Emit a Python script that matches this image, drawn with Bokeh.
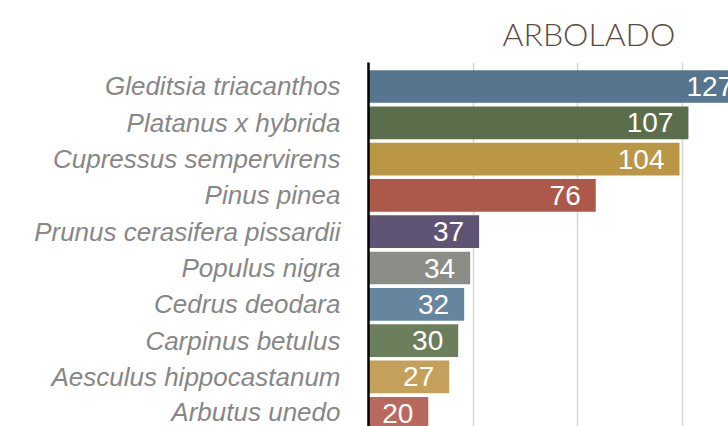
from bokeh.plotting import figure
from bokeh.models import Range1d, FixedTicker, Title, ColumnDataSource
from bokeh.core.properties import value
from bokeh.embed import file_html
from bokeh.resources import INLINE

species = ["Gleditsia triacanthos", "Platanus x hybrida", "Cupressus sempervirens",
           "Pinus pinea", "Prunus cerasifera pissardii", "Populus nigra",
           "Cedrus deodara", "Carpinus betulus", "Aesculus hippocastanum", "Arbutus unedo"]
counts = [127, 107, 104, 76, 37, 34, 32, 30, 27, 20]
colors = ["#56758f", "#5a6e4c", "#bb9645", "#ac594a", "#5f5473",
          "#8b8e87", "#6686a0", "#6b7f5c", "#c4a05a", "#b8695d"]
grid_ticks = [35, 70, 105]
title_text = "ARBOLADO"

pos = list(range(len(species)))
src = ColumnDataSource(dict(y=pos, v=counts, c=colors, t=[str(c) for c in counts]))

p = figure(width=728, height=426, output_backend="svg", toolbar_location=None,
           x_range=Range1d(0, 120.4), y_range=Range1d(9.366, -0.661),
           x_axis_location=None, min_border_left=368, min_border_right=0,
           min_border_top=62, min_border_bottom=0)
p.outline_line_color = None
p.background_fill_color = "white"
p.border_fill_color = "white"

p.hbar(y="y", right="v", left=0, height=0.9, fill_color="c", line_color=None, source=src)
p.text(x="v", y="y", text="t", source=src, text_align="right", text_baseline="middle",
       x_offset=-15, y_offset=0, text_color="white", text_font=value("Liberation Sans"),
       text_font_size="28px")

p.yaxis.ticker = FixedTicker(ticks=pos)
p.yaxis.major_label_overrides = {i: s for i, s in enumerate(species)}
p.yaxis.major_label_text_font = "Liberation Sans"
p.yaxis.major_label_text_font_style = "italic"
p.yaxis.major_label_text_font_size = "26px"
p.yaxis.major_label_text_color = "#878787"
p.yaxis.major_label_standoff = 22
p.yaxis.major_tick_line_color = None
p.yaxis.minor_tick_line_color = None
p.yaxis.axis_line_color = "black"
p.yaxis.axis_line_width = 2.5

p.xgrid.ticker = FixedTicker(ticks=grid_ticks)
p.xgrid.grid_line_color = "#d6d6d6"
p.xgrid.grid_line_width = 1.5
p.ygrid.grid_line_color = None

p.add_layout(Title(text=title_text, align="left", offset=134, standoff=19,
                   text_font="Lato Light", text_font_size="32px", text_font_style="normal",
                   text_color="#5b4b3e"), "above")

open("out.html", "w").write(file_html(p, INLINE))
